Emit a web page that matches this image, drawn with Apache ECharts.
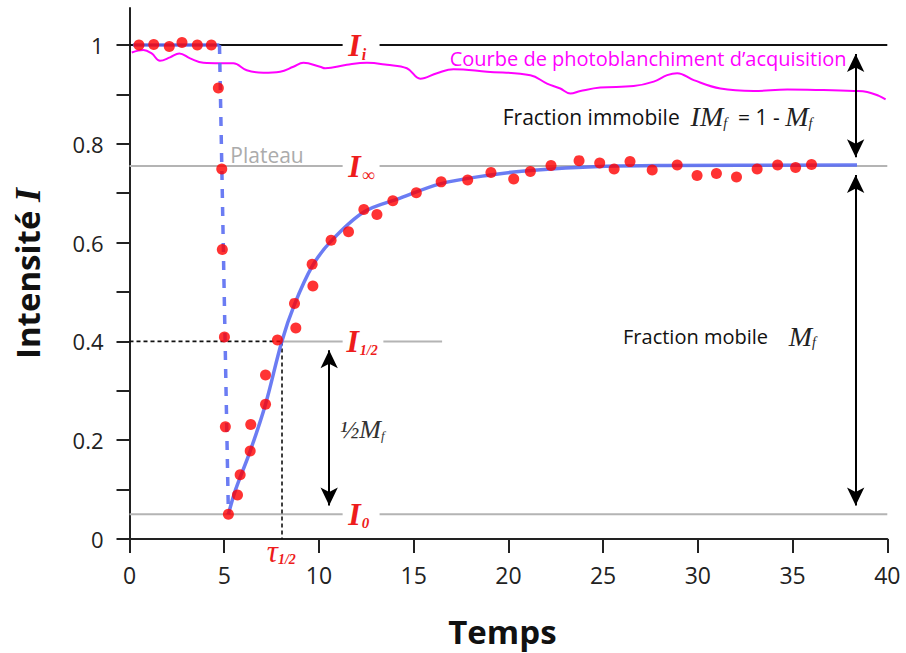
<!DOCTYPE html>
<html>
<head>
<meta charset="utf-8">
<script src="https://cdn.jsdelivr.net/npm/echarts@6/dist/echarts.min.js"></script>
<style>
html,body{margin:0;padding:0;background:#fff;}
#c{width:906px;height:653px;}
</style>
</head>
<body>
<div id="c"></div>
<script>
// ---- data ----
const obsTime = [0.5,1.28,2.1,2.77,3.58,4.32, 4.69,4.87,4.90,5.01,5.06,5.22,
  5.70,5.84,6.37,6.40,7.18,7.18,7.81,8.78,8.71,9.68,9.64,10.64,11.56,12.37,13.06,13.90,
  15.14,16.45,17.85,19.08,20.28,21.16,22.25,23.73,24.82,25.58,26.42,27.59,28.91,29.96,
  30.98,32.04,33.13,34.21,35.16,36.0];
const obsIntensity = [1.0,1.001,0.997,1.005,1.0,1.0, 0.913,0.749,0.586,0.409,0.227,0.05,
  0.089,0.130,0.178,0.232,0.273,0.332,0.403,0.427,0.477,0.512,0.556,0.605,0.622,0.667,0.657,0.685,
  0.701,0.723,0.727,0.742,0.729,0.744,0.756,0.766,0.761,0.749,0.764,0.747,0.757,0.736,
  0.740,0.733,0.749,0.757,0.752,0.758];

const fitTime = [5.22,5.6,6.37,7.18,8.04,8.71,9.64,10.64,12.37,14.29,16.4,19.04,21.15,24.85,28.38,38.4];
const fitIntensity = [0.05,0.10,0.178,0.273,0.40,0.475,0.552,0.603,0.662,0.690,0.719,0.737,0.746,0.754,0.756,0.757];

const preBleachTime = [0.18,4.75];
const preBleachIntensity = [1.0,1.0];
const bleachDropTime = [4.75,5.22];
const bleachDropIntensity = [1.0,0.05];

const acqTime = [0.12,0.73,1.17,1.61,2.14,2.63,3.2,3.9,4.78,5.48,6.19,7.07,7.95,8.65,9.18,10.06,10.33,
  11.47,12.53,13.59,14.64,15.35,16.23,17.1,18.87,21.16,22.04,22.74,23.27,23.8,24.85,26.61,27.67,
  28.38,28.91,29.78,31.19,32.95,34.72,36.48,38.24,38.94,39.56,39.91];
const acqIntensity = [0.985,0.99,0.983,0.968,0.975,0.983,0.973,0.964,0.963,0.963,0.949,0.944,0.946,
  0.956,0.964,0.956,0.953,0.960,0.964,0.960,0.953,0.932,0.943,0.951,0.946,0.939,0.922,0.912,0.902,
  0.907,0.914,0.917,0.926,0.939,0.943,0.929,0.912,0.907,0.910,0.909,0.907,0.905,0.897,0.890];

const levelIi = 1.0;
const levelIinf = 0.755;
const levelIhalf = 0.40;
const levelI0 = 0.05;
const tauHalf = 8.05;

const yTickValues = [0,0.1,0.2,0.3,0.4,0.5,0.6,0.7,0.8,0.9,1.0];
const yLabelValues = [0,0.2,0.4,0.6,0.8,1.0];

// ---- helpers ----
const zip = (xs, ys) => xs.map((x,i)=>[x, ys[i]]);
const labelGap = [11.25, 13.2]; // x-range kept free for level labels
const chart = echarts.init(document.getElementById('c'), null, {renderer:'svg'});
const gray = '#b4b4b4';
const red = '#ee1c1c';
const blue = '#5b6ef2';
const F = "'Open Sans', sans-serif";
const S = "'Liberation Serif', 'DejaVu Serif', serif";

const arrowX = 38.33, halfArrowX = 10.54;
const ins = 0.018;

chart.setOption({
  animation:false,
  grid:{left:129.5, right:18.7, top:8, bottom:113, containLabel:false},
  xAxis:{
    type:'value', min:0, max:40, interval:5,
    axisLine:{lineStyle:{color:'#222', width:2}},
    axisTick:{show:true, inside:false, length:14, lineStyle:{color:'#222', width:2}},
    axisLabel:{fontFamily:F, fontSize:23, color:'#222', margin:24},
    splitLine:{show:false},
    name:'Temps', nameLocation:'middle', nameGap:76,
    nameTextStyle:{fontFamily:F, fontSize:33, fontWeight:'bold', color:'#111', padding:[0,12,0,0]}
  },
  yAxis:{
    type:'value', min:0, max:1.075,
    axisLine:{show:true, lineStyle:{color:'#222', width:2}},
    axisTick:{show:true, inside:false, length:13, lineStyle:{color:'#222', width:2}, customValues:yTickValues},
    axisLabel:{fontFamily:F, fontSize:22, color:'#222', margin:26, customValues:yLabelValues,
      formatter:v=> (v===0||v===1)? String(v) : v.toFixed(1)},
    splitLine:{show:false},
    name:'{a|Intensité }{b|I}', nameLocation:'middle', nameGap:84, nameRotate:90,
    nameTextStyle:{rich:{
      a:{fontFamily:F, fontSize:33, fontWeight:'bold', color:'#111'},
      b:{fontFamily:S, fontSize:36, fontWeight:'bold', fontStyle:'italic', color:'#111'}
    }}
  },
  series:[
    {type:'line', name:'Ii', data:[[0,levelIi],[labelGap[0],levelIi],[12,'-'],[labelGap[1],levelIi],[40,levelIi]],
      symbol:'none', lineStyle:{color:'#111', width:2}, z:2,
      markLine:{silent:true, symbol:['arrow','arrow'], symbolSize:[13,18],
        lineStyle:{color:'#000', width:2, type:'solid'}, label:{show:false},
        data:[
          [{coord:[arrowX, levelIi-ins]},{coord:[arrowX, levelIinf+ins]}],
          [{coord:[arrowX, levelIinf-ins]},{coord:[arrowX, levelI0+ins]}],
          [{coord:[halfArrowX, levelIhalf-ins]},{coord:[halfArrowX, levelI0+ins]}]
        ]}
    },
    {type:'line', name:'Iinf', data:[[0,levelIinf],[labelGap[0],levelIinf],[12,'-'],[labelGap[1],levelIinf],[40,levelIinf]],
      symbol:'none', lineStyle:{color:gray, width:2}, z:1},
    {type:'line', name:'Ihalf', data:[[tauHalf,levelIhalf],[labelGap[0],levelIhalf],[12,'-'],[13.4,levelIhalf],[16.5,levelIhalf]],
      symbol:'none', lineStyle:{color:gray, width:2}, z:1},
    {type:'line', name:'I0', data:[[0,levelI0],[labelGap[0],levelI0],[12,'-'],[labelGap[1],levelI0],[40,levelI0]],
      symbol:'none', lineStyle:{color:gray, width:2}, z:1},
    {type:'line', name:'tauH', data:[[0,levelIhalf],[tauHalf,levelIhalf]], symbol:'none',
      lineStyle:{color:'#111', width:1.6, type:[4,3]}, z:3},
    {type:'line', name:'tauV', data:[[tauHalf,levelIhalf],[tauHalf,0]], symbol:'none',
      lineStyle:{color:'#111', width:1.6, type:[4,3]}, z:3},
    {type:'line', name:'acq', data:zip(acqTime, acqIntensity), symbol:'none', smooth:0.4,
      lineStyle:{color:'#ff00ff', width:2}, z:3},
    {type:'line', name:'pre', data:zip(preBleachTime, preBleachIntensity), symbol:'none',
      lineStyle:{color:blue, width:3.5, opacity:0.9}, z:4},
    {type:'line', name:'drop', data:zip(bleachDropTime, bleachDropIntensity), symbol:'none',
      lineStyle:{color:blue, width:3.5, type:[9,9], opacity:0.9}, z:4},
    {type:'line', name:'fit', data:zip(fitTime, fitIntensity), symbol:'none', smooth:0.35,
      lineStyle:{color:blue, width:3.5, opacity:0.9}, z:4},
    {type:'scatter', name:'obs', data:zip(obsTime, obsIntensity), symbolSize:11,
      itemStyle:{color:'#ff0000'}, z:6}
  ]
});

function P(x,y){ return chart.convertToPixel({gridIndex:0},[x,y]); }
function levelLabel(x, y, sub, subSize, subPad){
  const p = P(x,y);
  return {type:'text', x:p[0], y:p[1], z:20, style:{
    text:'{I|I}{s|'+sub+'}', verticalAlign:'middle', align:'left',
    rich:{
      I:{fontFamily:S, fontSize:32, fontStyle:'italic', fontWeight:'bold', fill:red},
      s:{fontFamily:S, fontSize:subSize, fontStyle:'italic', fontWeight:'bold', fill:red, padding:[subPad,0,0,1]}
    }}};
}
const g = [];
g.push(levelLabel(11.55, levelIi, 'i', 16, 18));
g.push(levelLabel(11.55, levelIinf, '∞', 18, 18));
g.push(levelLabel(11.45, levelIhalf, '1/2', 14, 18));
g.push(levelLabel(11.55, levelI0, '0', 15, 18));
(function(){
  const p = P(5.32, 0.778);
  g.push({type:'text', x:p[0], y:p[1], z:20, style:{text:'Plateau', font:"21px 'Open Sans'", fill:'#ababab', verticalAlign:'middle'}});
  const q = P(7.25, -0.025);
  g.push({type:'text', x:q[0], y:q[1], z:20, style:{text:'{t|τ}{s|1/2}', verticalAlign:'middle', rich:{
    t:{fontFamily:S, fontSize:31, fontStyle:'italic', fill:red},
    s:{fontFamily:S, fontSize:14, fontStyle:'italic', fontWeight:'bold', fill:red, padding:[17,0,0,0]}}}});
  const r = P(16.9, 0.972);
  g.push({type:'text', x:r[0], y:r[1], z:20, style:{text:'Courbe de photoblanchiment d’acquisition', font:"20px 'Open Sans'", fill:'#ff00ff', verticalAlign:'middle'}});
  const s = P(19.7, 0.855);
  g.push({type:'text', x:s[0], y:s[1], z:20, style:{text:'{a|Fraction immobile  }{m|IM}{f|f}{a|  = 1 - }{m|M}{f|f}', verticalAlign:'middle', rich:{
    a:{fontFamily:F, fontSize:21, fill:'#111'},
    m:{fontFamily:S, fontSize:28, fontStyle:'italic', fill:'#222'},
    f:{fontFamily:S, fontSize:14, fontStyle:'italic', fill:'#222', padding:[13,0,0,0]}}}});
  const t = P(26.05, 0.41);
  g.push({type:'text', x:t[0], y:t[1], z:20, style:{text:'{a|Fraction mobile    }{m|M}{f|f}', verticalAlign:'middle', rich:{
    a:{fontFamily:F, fontSize:20, fill:'#111'},
    m:{fontFamily:S, fontSize:28, fontStyle:'italic', fill:'#222'},
    f:{fontFamily:S, fontSize:14, fontStyle:'italic', fill:'#222', padding:[13,0,0,0]}}}});
  const u = P(11.1, 0.222);
  g.push({type:'text', x:u[0], y:u[1], z:20, style:{text:'{m|½M}{f|f}', verticalAlign:'middle', rich:{
    m:{fontFamily:S, fontSize:26, fontStyle:'italic', fill:'#333'},
    f:{fontFamily:S, fontSize:13, fontStyle:'italic', fill:'#333', padding:[12,0,0,0]}}}});
})();
chart.setOption({graphic:g});
</script>
</body>
</html>
